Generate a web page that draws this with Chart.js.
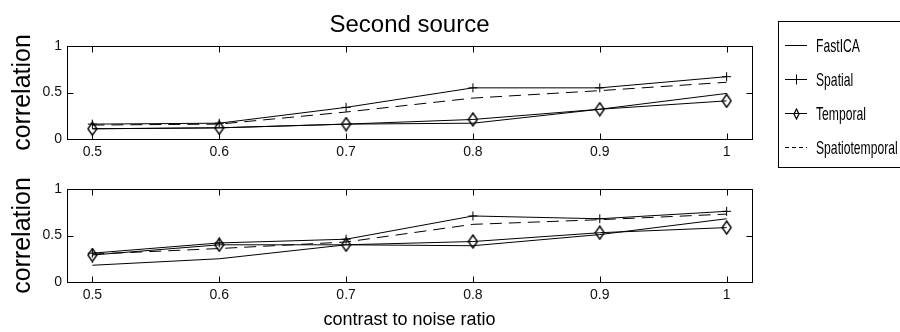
<!DOCTYPE html>
<html lang="en">
  <head>
    <meta charset="UTF-8" />
    <script src="https://cdn.jsdelivr.net/npm/chart.js@4.4.0/dist/chart.umd.min.js"></script>
    <title>Second source</title>
    <style>
      body { margin: 0; background: #fff; }
      #wrap { position: relative; width: 900px; height: 332px; overflow: hidden; }
      canvas { position: absolute; left: 0; }
    </style>
  </head>
  <body>
    <div id="wrap">
      <canvas id="upper" width="900" height="170" style="top:0"></canvas>
      <canvas id="lower" width="900" height="166" style="top:166px"></canvas>
    </div>

    <script>
      var cnr = [0.5, 0.6, 0.7, 0.8, 0.9, 1];
      var xTickLabels = ["0.5", "0.6", "0.7", "0.8", "0.9", "1"];
      var yTicks = [0, 0.5, 1];
      var yTickLabels = ["0", "0.5", "1"];
      var names = ["FastICA", "Spatial", "Temporal", "Spatiotemporal"];

      // upper panel
      var fastica1 = [0.11, 0.12, 0.16, 0.17, 0.32, 0.49];
      var spatial1 = [0.16, 0.17, 0.34, 0.55, 0.55, 0.67];
      var temporal1 = [0.11, 0.12, 0.16, 0.21, 0.32, 0.41];
      var spatiotemporal1 = [0.15, 0.16, 0.29, 0.44, 0.52, 0.61];

      // lower panel
      var fastica2 = [0.18, 0.25, 0.4, 0.39, 0.51, 0.68];
      var spatial2 = [0.31, 0.42, 0.46, 0.71, 0.68, 0.76];
      var temporal2 = [0.29, 0.4, 0.4, 0.435, 0.53, 0.585];
      var spatiotemporal2 = [0.3, 0.36, 0.43, 0.62, 0.67, 0.73];

      var titleText = "Second source";
      var yTitle = "correlation";
      var xTitle = "contrast to noise ratio";

      Chart.defaults.font.family = "'Liberation Sans', Arial, sans-serif";
      Chart.defaults.color = "#111";

      // hollow diamond marker, taller than wide like the matlab one
      function diamondMarker(w, h, lw) {
        var c = document.createElement("canvas");
        c.width = w + 2;
        c.height = h + 2;
        var g = c.getContext("2d");
        g.strokeStyle = "#000";
        g.lineWidth = lw;
        g.beginPath();
        g.moveTo(c.width / 2, 1);
        g.lineTo(c.width - 1, c.height / 2);
        g.lineTo(c.width / 2, c.height - 1);
        g.lineTo(1, c.height / 2);
        g.closePath();
        g.stroke();
        return c;
      }
      var diamond = diamondMarker(9, 13, 1.4);
      var smallDiamond = diamondMarker(5, 10, 1.2);

      function pts(vals) {
        return cnr.map(function (x, i) {
          return { x: x, y: vals[i] };
        });
      }

      function makeSets(f, s, t, st) {
        var base = {
          borderColor: "#000",
          borderWidth: 1,
          backgroundColor: "#000",
          tension: 0,
          fill: false,
          pointRadius: 0,
          pointBorderColor: "#000",
          pointBackgroundColor: "rgba(0,0,0,0)",
        };
        return [
          Object.assign({}, base, { label: names[0], data: pts(f) }),
          Object.assign({}, base, { label: names[1], data: pts(s), pointStyle: "cross", pointRadius: 4.5, pointBorderWidth: 1 }),
          Object.assign({}, base, { label: names[2], data: pts(t), pointStyle: diamond, pointRadius: 6 }),
          Object.assign({}, base, { label: names[3], data: pts(st), borderDash: [12, 7] }),
        ];
      }

      // box round the plot plus inward ticks on all four sides
      var frame = {
        id: "frame",
        afterDatasetsDraw: function (chart) {
          var a = chart.chartArea, ctx = chart.ctx;
          var xs = chart.scales.x, ys = chart.scales.y;
          var L = Math.round(a.left) + 0.5, R = Math.round(a.right) + 0.5;
          var T = Math.round(a.top) + 0.5, B = Math.round(a.bottom) + 0.5;
          ctx.save();
          ctx.strokeStyle = "#000";
          ctx.lineWidth = 1;
          ctx.strokeRect(L, T, R - L, B - T);
          ctx.beginPath();
          cnr.forEach(function (v) {
            var px = Math.round(xs.getPixelForValue(v)) + 0.5;
            ctx.moveTo(px, B); ctx.lineTo(px, B - 6);
            ctx.moveTo(px, T); ctx.lineTo(px, T + 6);
          });
          yTicks.forEach(function (v) {
            var py = Math.round(ys.getPixelForValue(v)) + 0.5;
            ctx.moveTo(L, py); ctx.lineTo(L + 6, py);
            ctx.moveTo(R, py); ctx.lineTo(R - 6, py);
          });
          ctx.stroke();
          ctx.restore();
        },
      };

      var heading = {
        id: "heading",
        afterDraw: function (chart) {
          var a = chart.chartArea, ctx = chart.ctx;
          ctx.save();
          ctx.fillStyle = "#000";
          ctx.font = "24px 'Liberation Sans', Arial, sans-serif";
          ctx.textAlign = "center";
          ctx.textBaseline = "alphabetic";
          ctx.fillText(titleText, (a.left + a.right) / 2, 32);
          ctx.restore();
        },
      };

      // matlab style legend box to the right of the upper panel
      var sideLegend = {
        id: "sideLegend",
        afterDraw: function (chart) {
          var ctx = chart.ctx;
          var bx = chart.chartArea.right + 26, by = 21;
          ctx.save();
          ctx.strokeStyle = "#000";
          ctx.lineWidth = 1;
          ctx.strokeRect(Math.round(bx) + 0.5, by + 0.5, 140, 146);
          chart.data.datasets.forEach(function (ds, i) {
            var y = Math.round(by + 24 + i * 34) + 0.5;
            var x0 = bx + 7, x1 = bx + 29, xm = Math.round((x0 + x1) / 2) + 0.5;
            ctx.beginPath();
            ctx.setLineDash(ds.borderDash ? [4, 3] : []);
            ctx.moveTo(x0, y);
            ctx.lineTo(x1, y);
            ctx.stroke();
            ctx.setLineDash([]);
            if (ds.pointStyle === "cross") {
              ctx.beginPath();
              ctx.moveTo(xm, y - 5); ctx.lineTo(xm, y + 5);
              ctx.stroke();
            } else if (ds.pointStyle) {
              ctx.drawImage(smallDiamond, Math.round(xm - smallDiamond.width / 2), Math.round(y - smallDiamond.height / 2));
            }
            ctx.save();
            ctx.translate(bx + 38, y + 1);
            ctx.scale(0.64, 1);
            ctx.fillStyle = "#000";
            ctx.font = "19px 'Liberation Sans', Arial, sans-serif";
            ctx.textBaseline = "middle";
            ctx.fillText(ds.label, 0, 0);
            ctx.restore();
          });
          ctx.restore();
        },
      };

      function makeChart(id, sets, padTop, xHeight, showXTitle, extra) {
        return new Chart(id, {
          type: "line",
          data: { datasets: sets },
          options: {
            responsive: false,
            animation: false,
            layout: { padding: { top: padTop, right: 148, left: 0, bottom: 0 } },
            plugins: { legend: { display: false }, tooltip: { enabled: false } },
            scales: {
              x: {
                type: "linear",
                min: 0.48,
                max: 1.02,
                afterBuildTicks: function (s) {
                  s.ticks = cnr.map(function (v) { return { value: v }; });
                },
                afterFit: function (s) { s.height = xHeight; },
                ticks: {
                  autoSkip: false,
                  maxRotation: 0,
                  padding: 5,
                  font: { size: 14 },
                  callback: function (v, i) { return xTickLabels[i]; },
                },
                grid: { display: false, drawTicks: false },
                border: { display: false },
                title: {
                  display: showXTitle,
                  text: xTitle,
                  font: { size: 18 },
                  color: "#000",
                  padding: { top: 0, bottom: 1 },
                },
              },
              y: {
                min: 0,
                max: 1,
                afterBuildTicks: function (s) {
                  s.ticks = yTicks.map(function (v) { return { value: v }; });
                },
                afterFit: function (s) { s.width = 67; },
                ticks: {
                  padding: 5,
                  font: { size: 14 },
                  callback: function (v, i) { return yTickLabels[i]; },
                },
                grid: { display: false, drawTicks: false },
                border: { display: false },
                title: {
                  display: true,
                  text: yTitle,
                  font: { size: 25 },
                  color: "#000",
                  padding: { top: 8, bottom: 0 },
                },
              },
            },
          },
          plugins: [frame].concat(extra),
        });
      }

      makeChart("upper", makeSets(fastica1, spatial1, temporal1, spatiotemporal1), 46, 31, false, [heading, sideLegend]);
      makeChart("lower", makeSets(fastica2, spatial2, temporal2, spatiotemporal2), 23, 50, true, []);
    </script>
  </body>
</html>
